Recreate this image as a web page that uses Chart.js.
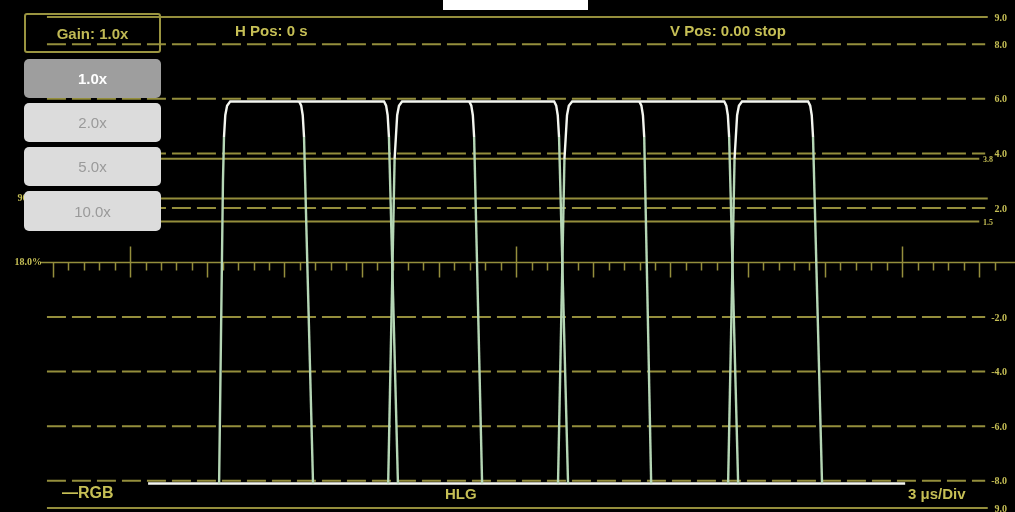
<!DOCTYPE html>
<html>
<head>
<meta charset="utf-8">
<script src="https://cdn.jsdelivr.net/npm/chart.js@4"></script>
<style>
  html, body { margin: 0; padding: 0; background: #000; }
  #wrap { position: relative; width: 1015px; height: 512px; background: #000; overflow: hidden; font-family: "Liberation Sans", Arial, sans-serif; }
  #wrap canvas { position: absolute; left: 0; top: 0; }
  .txt { position: absolute; color: #c6bf55; font-weight: bold; font-size: 15px; white-space: nowrap; line-height: 1; }
  .btn { position: absolute; left: 24px; width: 137px; height: 39px; border-radius: 5px; background: #dcdcdc; color: #9a9a9a;
         font-size: 15px; display: flex; align-items: center; justify-content: center; }
  .btn.on { background: #9e9e9e; color: #fff; font-weight: bold; }
  #gain { position: absolute; left: 24px; top: 13px; width: 133px; height: 36px; border: 2px solid #9a9440; border-radius: 3px;
          color: #c0b954; font-weight: bold; font-size: 15px; display: flex; align-items: center; justify-content: center; }
  #tab { position: absolute; left: 443px; top: 0; width: 145px; height: 10px; background: #fff; }
</style>
</head>
<body>
<div id="wrap">
  <canvas id="wfm" width="1015" height="512"></canvas>
  <div id="tab"></div>
  <div id="gain">Gain: 1.0x</div>
  <div class="btn on" style="top:59px">1.0x</div>
  <div class="btn" style="top:103px">2.0x</div>
  <div class="btn" style="top:147px">5.0x</div>
  <div class="btn" style="top:191px;height:40px">10.0x</div>
  <div class="txt" style="left:235px;top:23px">H Pos: 0 s</div>
  <div class="txt" style="left:670px;top:23px">V Pos: 0.00 stop</div>
  <div class="txt" style="left:62px;top:485px;font-size:16px">—RGB</div>
  <div class="txt" style="left:445px;top:486px">HLG</div>
  <div class="txt" style="left:908px;top:486px">3 μs/Div</div>
</div>
<script>
// Waveform trace (x in microseconds, y in stops), null breaks the line
const traceX = [
  0.70, 30.12, null,
  3.46, 3.61, 3.65, 3.70, 3.77, 3.89, 9.87, 9.95, 10.01, 10.06, 10.41, null,
  10.03, 10.28, 10.33, 10.38, 10.45, 10.57, 16.48, 16.56, 16.62, 16.67, 17.02, null,
  16.63, 16.88, 16.93, 16.98, 17.05, 17.18, 23.09, 23.17, 23.23, 23.28, 23.63, null,
  23.24, 23.49, 23.54, 23.59, 23.66, 23.78, 26.35, 26.43, 26.49, 26.54, 26.89, null,
  6.57, 6.65, 6.71, 6.76, 7.11, null,
  13.18, 13.26, 13.32, 13.37, 13.68, null,
  19.79, 19.87, 19.93, 19.98, 20.25
];
const traceY = [
  -8.1, -8.1, null,
  -8.1, 3.0, 4.6, 5.4, 5.75, 5.9, 5.9, 5.75, 5.4, 4.6, -8.1, null,
  -8.1, 3.8, 4.6, 5.4, 5.75, 5.9, 5.9, 5.75, 5.4, 4.6, -8.1, null,
  -8.1, 3.8, 4.6, 5.4, 5.75, 5.9, 5.9, 5.75, 5.4, 4.6, -8.1, null,
  -8.1, 3.8, 4.6, 5.4, 5.75, 5.9, 5.9, 5.75, 5.4, 4.6, -8.1, null,
  5.9, 5.75, 5.4, 4.6, -8.1, null,
  5.9, 5.75, 5.4, 4.6, -8.1, null,
  5.9, 5.75, 5.4, 4.6, -8.1
];

// Graticule
const dashedLevels = [8, 6, 4, 2, -2, -4, -6, -8];
const solidLevels = [9, 3.8, 2.35, 1.5, -9];
const rightLabels = ["9.0", "8.0", "6.0", "4.0", "2.0", "-2.0", "-4.0", "-6.0", "-8.0", "9.0"];
const rightLabelLevels = [9, 8, 6, 4, 2, -2, -4, -6, -8, -9];
const innerLabels = ["3.8", "1.5"];
const innerLabelLevels = [3.8, 1.5];
const leftLabels = ["18.0%", "90.0%"];
const leftLabelLevels = [0, 2.35];

const lineColor = "#948e3c";
const labelColor = "#c6bf55";
const lineStart = -3.23, lineEnd = 33.23;

const tracePoints = traceX.map((x, i) => (x === null ? { x: NaN, y: null } : { x: x, y: traceY[i] }));

const datasets = [{
  data: tracePoints,
  borderWidth: 2.4,
  spanGaps: false,
  clip: false,
  segment: {
    borderColor: (c) => Math.abs(c.p0.parsed.y - c.p1.parsed.y) > 1 ? "#b5d6b5" : "#f4f6f0"
  }
}];
dashedLevels.forEach((v) => datasets.push({
  data: [{ x: lineStart, y: v }, { x: lineEnd, y: v }],
  borderColor: lineColor, borderWidth: 2, borderDash: [19, 6], clip: false
}));
solidLevels.forEach((v) => datasets.push({
  data: [{ x: lineStart, y: v }, { x: (v === 3.8 || v === 1.5) ? 33.0 : lineEnd + 0.1, y: v }],
  borderColor: lineColor, borderWidth: 2, clip: false
}));

// Centre axis with tick marks and scale labels
const graticule = {
  id: "graticule",
  beforeDatasetsDraw(chart) {
    const c = chart.ctx, xs = chart.scales.x, ys = chart.scales.y;
    const y0 = ys.getPixelForValue(0);
    c.save();
    c.strokeStyle = lineColor;
    c.lineWidth = 1.5;
    c.beginPath();
    c.moveTo(xs.getPixelForValue(-3.5), y0);
    c.lineTo(chart.width, y0);
    c.stroke();
    for (let i = -5; i <= 56; i++) {
      const px = Math.round(xs.getPixelForValue(i * 0.6)) + 0.5;
      c.beginPath();
      if (i % 25 === 0) { c.moveTo(px, y0 - 16); c.lineTo(px, y0 + 15); }
      else if (i % 5 === 0) { c.moveTo(px, y0); c.lineTo(px, y0 + 15); }
      else { c.moveTo(px, y0); c.lineTo(px, y0 + 8); }
      c.stroke();
    }
    c.fillStyle = labelColor;
    c.textBaseline = "middle";
    c.font = 'bold 10px "Liberation Serif"';
    c.textAlign = "right";
    rightLabels.forEach((t, i) => c.fillText(t, 1007, ys.getPixelForValue(rightLabelLevels[i]) + 1));
    leftLabels.forEach((t, i) => c.fillText(t, i === 0 ? 42 : 45, ys.getPixelForValue(leftLabelLevels[i])));
    c.font = 'bold 8px "Liberation Serif"';
    innerLabels.forEach((t, i) => c.fillText(t, 993, ys.getPixelForValue(innerLabelLevels[i]) + 1));
    c.restore();
  }
};

new Chart(document.getElementById("wfm"), {
  type: "line",
  data: { datasets: datasets },
  options: {
    responsive: false,
    animation: false,
    layout: { padding: { left: 40, right: 10, top: 17, bottom: 4 } },
    elements: { point: { radius: 0 }, line: { tension: 0 } },
    scales: {
      x: { type: "linear", min: -3.5, max: 34, display: false },
      y: { min: -9, max: 9, display: false }
    },
    plugins: { legend: { display: false }, tooltip: { enabled: false } }
  },
  plugins: [graticule]
});
</script>
</body>
</html>
